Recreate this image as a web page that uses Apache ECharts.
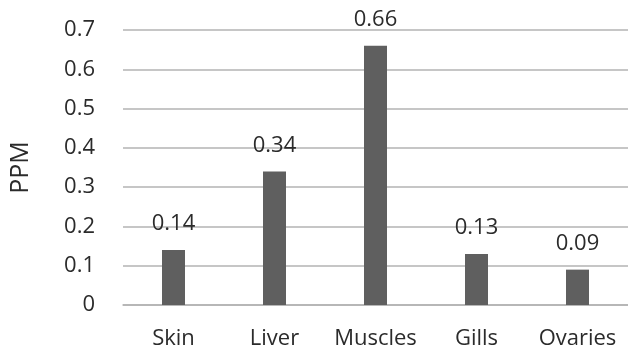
<!DOCTYPE html>
<html>
<head>
<meta charset="utf-8">
<script src="https://cdn.jsdelivr.net/npm/echarts@6/dist/echarts.min.js"></script>
<style>
  html, body { margin: 0; padding: 0; background: #fff; }
  #chart { width: 628px; height: 354px; }
</style>
</head>
<body>
<div id="chart"></div>
<script>
// Tissue concentrations in PPM
const categories = ['Skin', 'Liver', 'Muscles', 'Gills', 'Ovaries'];
const ppmValues = [0.14, 0.34, 0.66, 0.13, 0.09];
const yTicks = [0, 0.1, 0.2, 0.3, 0.4, 0.5, 0.6, 0.7];

const font = '"Open Sans", "Liberation Sans", sans-serif';
const textColor = '#2b2b2b';

const chart = echarts.init(document.getElementById('chart'), null, { renderer: 'canvas' });
chart.setOption({
  animation: false,
  backgroundColor: '#ffffff',
  grid: { left: 121, right: -4, top: 30, bottom: 49, containLabel: false },
  xAxis: {
    type: 'category',
    data: categories,
    axisLine: { show: true, lineStyle: { color: '#b3b3b3', width: 1.5 } },
    axisTick: { show: false },
    axisLabel: {
      interval: 0,
      hideOverlap: false,
      color: textColor, fontFamily: font, fontSize: 22, margin: 23
    }
  },
  yAxis: {
    type: 'value',
    min: yTicks[0],
    max: yTicks[yTicks.length - 1],
    interval: 0.1,
    name: 'PPM',
    nameLocation: 'middle',
    nameGap: 90,
    nameRotate: 90,
    nameTextStyle: { color: textColor, fontFamily: font, fontSize: 25 },
    axisLine: { show: false },
    axisTick: { show: false },
    splitLine: { show: true, lineStyle: { color: '#b3b3b3', width: 1.5 } },
    axisLabel: {
      color: textColor, fontFamily: font, fontSize: 22, margin: 28,
      formatter: v => String(Math.round(v * 10) / 10)
    }
  },
  series: [{
    type: 'bar',
    data: ppmValues,
    barWidth: 23,
    itemStyle: { color: '#5f5f5f' },
    label: {
      show: true,
      position: 'top',
      distance: 15,
      color: textColor,
      fontFamily: font,
      fontSize: 22,
      formatter: p => p.value.toFixed(2)
    }
  }]
});
</script>
</body>
</html>
